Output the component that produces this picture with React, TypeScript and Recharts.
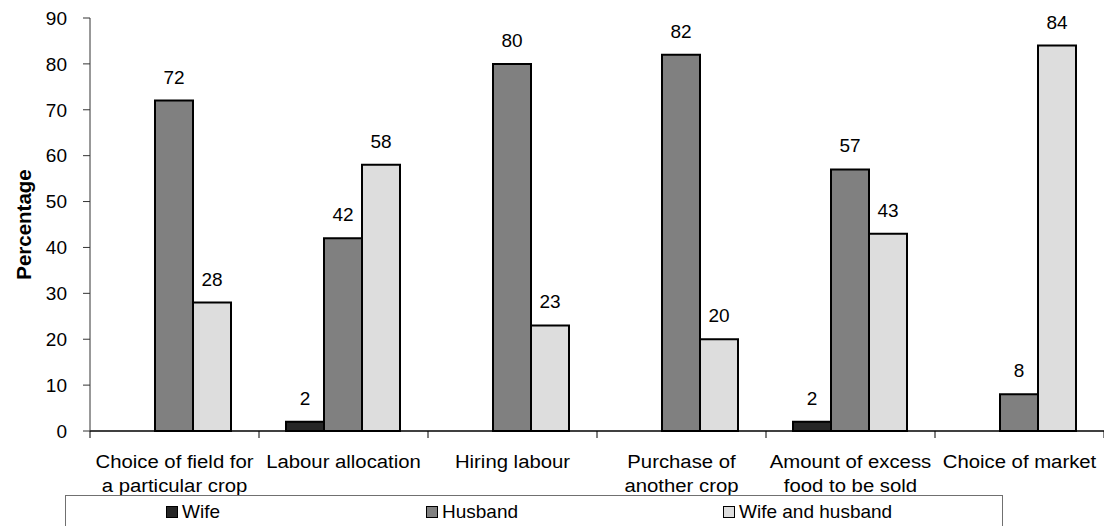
import { Bar, BarChart, LabelList, XAxis, YAxis } from "recharts";

const categories = [
  "Choice of field for\na particular crop",
  "Labour allocation",
  "Hiring labour",
  "Purchase of\nanother crop",
  "Amount of excess\nfood to be sold",
  "Choice of market",
];
const wife = [null, 2, null, null, 2, null];
const husband = [72, 42, 80, 82, 57, 8];
const wifeAndHusband = [28, 58, 23, 20, 43, 84];
const yTicks = [0, 10, 20, 30, 40, 50, 60, 70, 80, 90];

const series = [
  { key: "wife", name: "Wife", color: "#262626" },
  { key: "husband", name: "Husband", color: "#808080" },
  { key: "both", name: "Wife and husband", color: "#dddddd" },
];

const data = categories.map((c, i) => ({
  category: c,
  wife: wife[i],
  husband: husband[i],
  both: wifeAndHusband[i],
}));

const W = 1104;
const H = 526;
const AXIS_W = 90;
const BAND = (W - AXIS_W) / categories.length;
const FONT = "'Liberation Sans', Arial, sans-serif";

function CategoryTick(props: any) {
  const { x, y, payload, index } = props;
  const lines = String(payload.value).split("\n");
  const half = BAND / 2;
  return (
    <g>
      <line x1={x - half} x2={x - half} y1={y - 8} y2={y - 1} stroke="#000" />
      {index === categories.length - 1 && (
        <line x1={x + half} x2={x + half} y1={y - 8} y2={y - 1} stroke="#000" />
      )}
      {/* the source text is a bit wider than the font, stretch it slightly */}
      <text
        transform={`translate(${x},${y}) scale(1.07,1)`}
        textAnchor="middle"
        fontSize={19}
        fill="#000"
        fontFamily={FONT}
      >
        {lines.map((l, i) => (
          <tspan key={i} x={0} dy={i === 0 ? 29 : 24}>
            {l}
          </tspan>
        ))}
      </text>
    </g>
  );
}

function AxisTitle(props: any) {
  const vb = props.viewBox || { y: 18, height: 413 };
  const cy = vb.y + vb.height / 2;
  return (
    <text
      transform={`translate(23, ${cy}) rotate(-90)`}
      textAnchor="middle"
      dominantBaseline="central"
      fontSize={20.5}
      fontWeight="bold"
      fontFamily={FONT}
      fill="#000"
    >
      Percentage
    </text>
  );
}

const legendWidths = [260, 297, 200];

export default function App() {
  return (
    <div
      style={{
        position: "absolute",
        left: 0,
        top: 0,
        width: W,
        height: H,
        overflow: "hidden",
        background: "#fff",
        fontFamily: FONT,
      }}
    >
      <BarChart
        width={W}
        height={H}
        data={data}
        margin={{ top: 18, right: 0, bottom: 0, left: 0 }}
        barCategoryGap={27}
        barGap={0}
      >
        <XAxis
          dataKey="category"
          height={95}
          interval={0}
          tickLine={false}
          axisLine={{ stroke: "#000", strokeWidth: 1.5 }}
          tick={<CategoryTick />}
        />
        <YAxis
          width={AXIS_W}
          domain={[0, 90]}
          ticks={yTicks}
          interval={0}
          tickSize={7}
          tickMargin={16}
          axisLine={{ stroke: "#333" }}
          tickLine={{ stroke: "#333" }}
          tick={{ fontSize: 19, fill: "#000", fontFamily: FONT }}
          label={{ content: (p: any) => <AxisTitle {...p} /> }}
        />
        {series.map((s) => (
          <Bar
            key={s.key}
            dataKey={s.key}
            name={s.name}
            fill={s.color}
            stroke="#000"
            strokeWidth={2}
            isAnimationActive={false}
          >
            <LabelList
              dataKey={s.key}
              position="top"
              offset={17}
              fontSize={19}
              fill="#000"
              fontFamily={FONT}
            />
          </Bar>
        ))}
      </BarChart>
      <div
        style={{
          position: "absolute",
          left: 65,
          top: 495,
          width: 938,
          height: 40,
          border: "1px solid #707070",
          background: "#fff",
          boxSizing: "border-box",
          display: "flex",
          alignItems: "flex-start",
          paddingLeft: 100,
          paddingTop: 5,
        }}
      >
        {series.map((s, i) => (
          <div
            key={s.key}
            style={{
              width: legendWidths[i],
              display: "flex",
              alignItems: "center",
              fontSize: 19,
              color: "#000",
              lineHeight: "22px",
            }}
          >
            <span
              style={{
                display: "inline-block",
                width: 12,
                height: 12,
                background: s.color,
                border: "1.5px solid #000",
                marginRight: 4,
                boxSizing: "border-box",
              }}
            />
            {s.name}
          </div>
        ))}
      </div>
    </div>
  );
}
